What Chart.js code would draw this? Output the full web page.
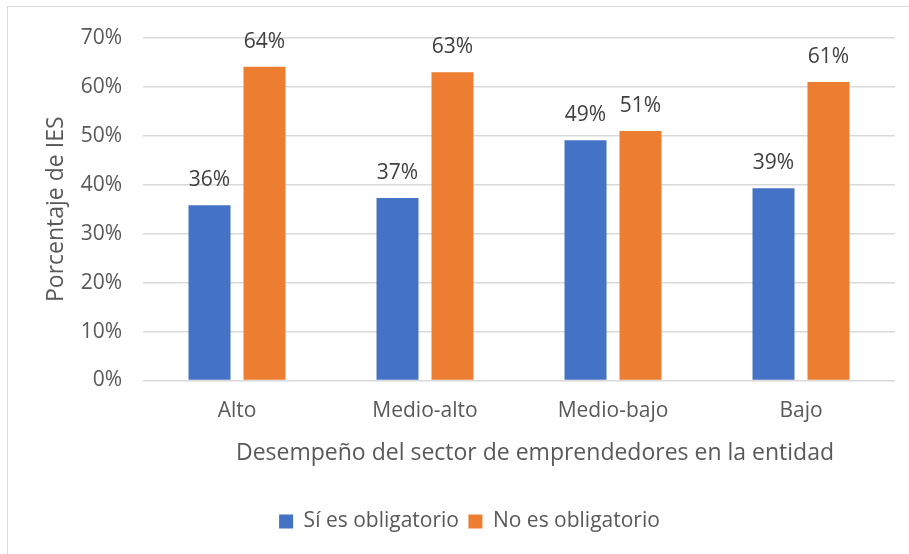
<!DOCTYPE html>
<html>
<head>
<meta charset="utf-8">
<script src="https://cdn.jsdelivr.net/npm/chart.js@4.4.1/dist/chart.umd.min.js"></script>
<style>
  html, body { margin: 0; padding: 0; background: #ffffff; }
  #wrap { width: 909px; height: 554px; position: relative; }
</style>
</head>
<body>
<div id="wrap"><canvas id="c" width="909" height="554"></canvas></div>
<script>
const categories = ["Alto", "Medio-alto", "Medio-bajo", "Bajo"];
const seriesNames = ["Sí es obligatorio", "No es obligatorio"];
const siValues = [35.8, 37.3, 49.1, 39.3];
const noValues = [64.1, 63.0, 51.0, 61.0];
const yTicks = [0, 10, 20, 30, 40, 50, 60, 70];
const xTitle = "Desempeño del sector de emprendedores en la entidad";
const yTitle = "Porcentaje de IES";

const FONT = "'Open Sans', 'Noto Sans', sans-serif";
const TEXT = "#595959";

const borderPlugin = {
  id: 'outerBorder',
  beforeDraw(chart) {
    const ctx = chart.ctx;
    ctx.save();
    ctx.fillStyle = '#ffffff';
    ctx.fillRect(0, 0, chart.width, chart.height);
    ctx.strokeStyle = '#D9D9D9';
    ctx.lineWidth = 1;
    ctx.strokeRect(7.5, 6.5, chart.width + 20, chart.height + 20);
    ctx.restore();
  }
};

// x-axis title, placed slightly right of the plot centre as in the reference
const xTitlePlugin = {
  id: 'xTitle',
  afterDraw(chart) {
    const ctx = chart.ctx;
    const a = chart.chartArea;
    ctx.save();
    ctx.font = "23px " + FONT;
    ctx.fillStyle = TEXT;
    ctx.textAlign = 'center';
    ctx.textBaseline = 'middle';
    ctx.fillText(xTitle, (a.left + a.right) / 2 + 16, a.bottom + 73);
    ctx.restore();
  }
};

// shift the legend a little to the right, as in the reference
const legendShift = {
  id: 'legendShift',
  afterLayout(chart) {
    if (chart.legend) { chart.legend.left += 18; chart.legend.right += 18; }
  }
};

const labelPlugin = {
  id: 'barLabels',
  afterDatasetsDraw(chart) {
    const ctx = chart.ctx;
    ctx.save();
    ctx.font = "21px " + FONT;
    ctx.fillStyle = "#404040";
    ctx.textAlign = 'center';
    ctx.textBaseline = 'middle';
    chart.data.datasets.forEach((ds, i) => {
      const meta = chart.getDatasetMeta(i);
      meta.data.forEach((bar, j) => {
        ctx.fillText(Math.round(ds.data[j]) + '%', bar.x, bar.y - 25);
      });
    });
    ctx.restore();
  }
};

new Chart(document.getElementById('c'), {
  type: 'bar',
  data: {
    labels: categories,
    datasets: [
      { label: seriesNames[0], data: siValues, backgroundColor: '#4472C4', borderWidth: 0,
        barPercentage: 0.764, categoryPercentage: 0.585 },
      { label: seriesNames[1], data: noValues, backgroundColor: '#ED7D31', borderWidth: 0,
        barPercentage: 0.764, categoryPercentage: 0.585 }
    ]
  },
  options: {
    responsive: false,
    animation: false,
    devicePixelRatio: 1,
    layout: { padding: { left: 8, right: 14, top: 38, bottom: 12 } },
    plugins: {
      legend: {
        position: 'bottom',
        labels: {
          font: { family: FONT, size: 21 },
          color: TEXT,
          boxWidth: 14,
          boxHeight: 14,
          padding: 9.5,
          generateLabels(chart) {
            return chart.data.datasets.map((ds, i) => ({
              text: ds.label, fillStyle: ds.backgroundColor, strokeStyle: ds.backgroundColor,
              lineWidth: 0, datasetIndex: i, fontColor: TEXT
            }));
          }
        }
      },
      tooltip: { enabled: false }
    },
    scales: {
      x: {
        grid: { display: false, drawTicks: false },
        border: { display: false },
        ticks: { font: { family: FONT, size: 21 }, color: TEXT, padding: 18 },
        title: { display: false },
        afterFit(scale) { scale.height = 121; }
      },
      y: {
        min: 0, max: 70,
        afterBuildTicks(scale) { scale.ticks = yTicks.map(v => ({ value: v })); },
        grid: { color: '#D9D9D9', lineWidth: 1.5, drawTicks: false },
        border: { display: false },
        ticks: { font: { family: FONT, size: 21 }, color: TEXT, padding: 21,
                 callback: v => v + '%' },
        title: { display: true, text: yTitle, font: { family: FONT, size: 23 }, color: TEXT,
                 padding: { top: 35, bottom: 0 } },
        afterFit(scale) { scale.width = 135; }
      }
    }
  },
  plugins: [borderPlugin, legendShift, labelPlugin, xTitlePlugin]
});
</script>
</body>
</html>
